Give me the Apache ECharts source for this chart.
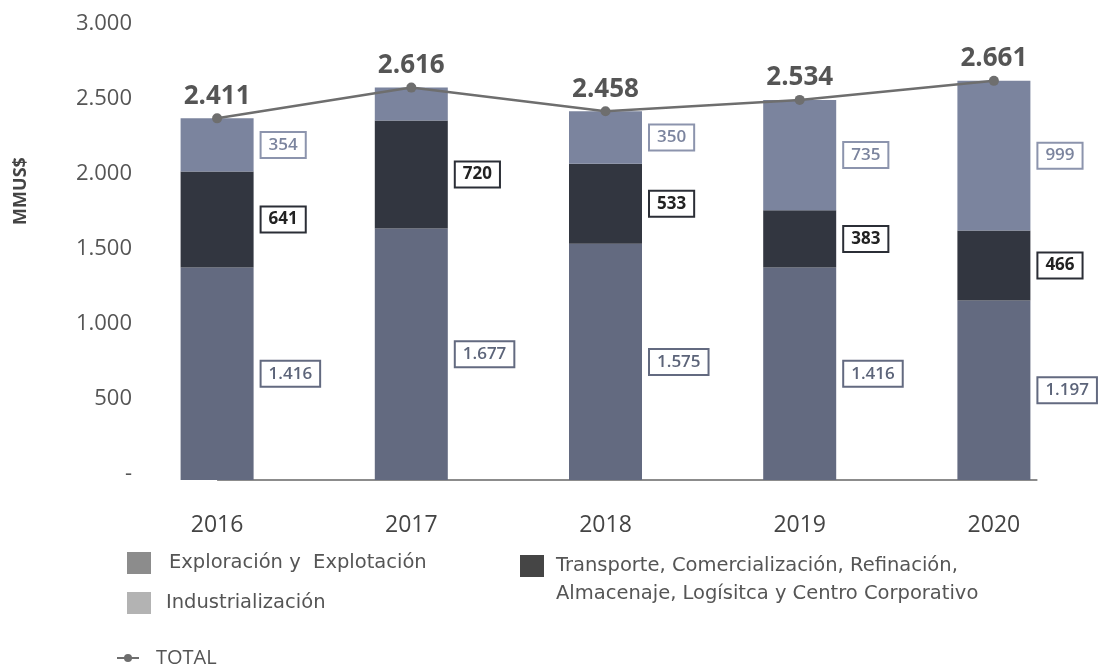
<!DOCTYPE html>
<html>
<head>
<meta charset="utf-8">
<title>MMUS$ por segmento</title>
<script src="https://cdn.jsdelivr.net/npm/echarts@6/dist/echarts.min.js"></script>
<style>
	html, body { margin: 0; padding: 0; background: #fff; }
	#main { width: 1101px; height: 666px; }
</style>
</head>
<body>
<div id="main"></div>
<script>
// datos del grafico
var years = ['2016', '2017', '2018', '2019', '2020'];
var exploracion = [1416, 1677, 1575, 1416, 1197];
var transporte = [641, 720, 533, 383, 466];
var industrializacion = [354, 219, 350, 735, 999];
var total = [2411, 2616, 2458, 2534, 2661];
var hiddenLabels = ['2017']; // industrializacion sin etiqueta

var nameExp = 'Exploración y  Explotación';
var nameTra = 'Transporte, Comercialización, Refinación,\nAlmacenaje, Logísitca y Centro Corporativo';
var nameInd = 'Industrialización';
var nameTot = 'TOTAL';

var FONT = '"Open Sans", sans-serif';
var LEG_FONT = '"DejaVu Sans", sans-serif';
var BAR_W = 73;

// 1234 -> 1.234
function fmt(v) {
	if (v === 0) return '-';
	return String(v).replace(/\B(?=(\d{3})+(?!\d))/g, '.');
}

function boxLabel(textColor, borderColor, weight) {
	return {
		show: true,
		position: 'right',
		distance: 8,
		fontFamily: FONT,
		fontSize: 17,
		fontWeight: weight,
		color: textColor,
		borderColor: borderColor,
		borderWidth: 2,
		padding: [4, 7, 3, 7],
		backgroundColor: '#fff',
		formatter: function (p) { return fmt(p.value); }
	};
}

var myChart = echarts.init(document.getElementById('main'));

var option = {
	animation: false,
	grid: {
		left: 120,
		right: 10,
		top: 30,
		bottom: 186
	},
	legend: [{
		left: 127, top: 552, padding: 0,
		itemWidth: 24, itemHeight: 22,
		icon: 'rect',
		selectedMode: false,
		textStyle: { fontFamily: LEG_FONT, fontSize: 19.5, color: '#555', padding: [3, 0, 0, 13] },
		data: [{ name: nameExp, itemStyle: { color: '#8c8c8c' } }]
	}, {
		left: 127, top: 592, padding: 0,
		itemWidth: 24, itemHeight: 22,
		icon: 'rect',
		selectedMode: false,
		textStyle: { fontFamily: LEG_FONT, fontSize: 19.5, color: '#555', padding: [3, 0, 0, 10] },
		data: [{ name: nameInd, itemStyle: { color: '#b3b3b3' } }]
	}, {
		// cuadro arriba, texto en dos lineas
		left: 520, top: 552, padding: 0,
		itemWidth: 24, itemHeight: 50,
		icon: 'path://M0,0H24V22H0Z M0,49.9L0,50',
		selectedMode: false,
		textStyle: { fontFamily: LEG_FONT, fontSize: 19.5, color: '#555', lineHeight: 28, padding: [0, 0, 0, 7] },
		data: [{ name: nameTra, itemStyle: { color: '#454545' } }]
	}, {
		left: 116, top: 648, padding: 0,
		itemWidth: 22, itemHeight: 10,
		selectedMode: false,
		textStyle: { fontFamily: FONT, fontSize: 20, color: '#555', padding: [0, 0, 0, 12] },
		data: [{ name: nameTot, itemStyle: { color: '#6e6e6e' } }]
	}],
	xAxis: {
		type: 'category',
		data: years,
		axisLine: { show: false },
		axisTick: { show: false },
		axisLabel: {
			margin: 34,
			fontFamily: FONT,
			fontSize: 23,
			color: '#444'
		}
	},
	yAxis: {
		type: 'value',
		min: 0,
		max: 3000,
		interval: 500,
		name: 'MMUS$',
		nameLocation: 'middle',
		nameGap: 90,
		nameTextStyle: {
			fontFamily: FONT,
			fontSize: 18,
			fontWeight: 'bold',
			color: '#444',
			padding: [0, 0, 0, 128]
		},
		splitLine: { show: false },
		axisLine: { show: false },
		axisTick: { show: false },
		axisLabel: {
			margin: -12,
			verticalAlign: 'bottom',
			lineHeight: 13,
			fontFamily: FONT,
			fontSize: 22,
			color: '#555',
			formatter: fmt
		}
	},
	series: [{
		name: nameExp,
		type: 'bar',
		stack: 'seg',
		barWidth: BAR_W,
		data: exploracion,
		itemStyle: { color: '#636a80' },
		label: boxLabel('#5c6479', '#636a80', 600)
	}, {
		name: nameTra,
		type: 'bar',
		stack: 'seg',
		barWidth: BAR_W,
		data: transporte,
		itemStyle: { color: '#323640' },
		label: boxLabel('#222', '#2b2e36', 'bold')
	}, {
		name: nameInd,
		type: 'bar',
		stack: 'seg',
		barWidth: BAR_W,
		data: industrializacion.map(function (v, i) {
			if (hiddenLabels.indexOf(years[i]) > -1) {
				return { value: v, label: { show: false } };
			}
			return v;
		}),
		itemStyle: { color: '#7b849e' },
		label: boxLabel('#7b849e', '#8c94ad', 600)
	}, {
		name: nameTot,
		type: 'line',
		data: total,
		z: 5,
		symbol: 'circle',
		symbolSize: 10,
		lineStyle: { color: '#6e6e6e', width: 2.5 },
		itemStyle: { color: '#6e6e6e' },
		label: {
			show: true,
			position: 'top',
			distance: 4,
			fontFamily: FONT,
			fontSize: 26,
			fontWeight: 'bold',
			color: '#555',
			formatter: function (p) { return fmt(p.value); }
		}
	}]
};

myChart.setOption(option);

// linea base del eje x, desde la primera barra hasta pasar la ultima
var p0 = myChart.convertToPixel({ gridIndex: 0 }, [years[0], 0]);
var p1 = myChart.convertToPixel({ gridIndex: 0 }, [years[years.length - 1], 0]);
myChart.setOption({
	graphic: [{
		type: 'line',
		z: 0,
		shape: { x1: p0[0], y1: p0[1], x2: p1[0] + BAR_W / 2 + 7, y2: p1[1] },
		style: { stroke: '#666', lineWidth: 1.5 }
	}]
});
</script>
</body>
</html>
